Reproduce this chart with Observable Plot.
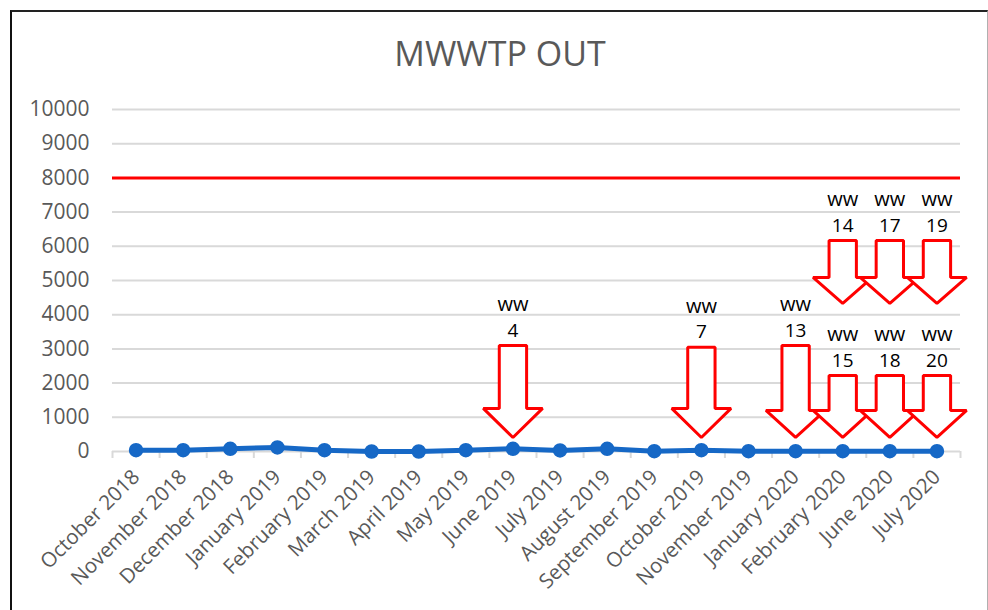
<!DOCTYPE html>
<html>
<head>
<meta charset="utf-8">
<script src="https://cdn.jsdelivr.net/npm/d3@7"></script>
<script src="https://cdn.jsdelivr.net/npm/@observablehq/plot@0.6"></script>
<style>
  html, body { margin: 0; padding: 0; background: #fff; }
  #wrap { position: relative; width: 988px; height: 610px; overflow: hidden; }
  #frame { position: absolute; left: 10px; top: 10px; width: 975px; height: 640px;
           border-left: 2px solid #111; border-top: 2px solid #222; border-right: 1px solid #b0b0b0; }
  #title { position: absolute; left: 0; top: 33px; width: 1000px; text-align: center;
           font-family: "Open Sans", sans-serif; font-size: 34px; color: #595959; line-height: 40px; }
  #chart { position: absolute; left: 0; top: 0; }
</style>
</head>
<body>
<div id="wrap">
  <div id="frame"></div>
  <div id="title">MWWTP OUT</div>
  <div id="chart"></div>
</div>
<script>
// Categories (x axis)
const categories = ["October 2018","November 2018","December 2018","January 2019","February 2019","March 2019","April 2019","May 2019","June 2019","July 2019","August 2019","September 2019","October 2019","November 2019","January 2020","February 2020","June 2020","July 2020"];
// Series values
const values = [40, 40, 80, 120, 40, 0, 0, 40, 80, 30, 80, 10, 40, 10, 10, 10, 10, 10];
// Limit line
const limitValue = [8000];
// Y tick labels
const yTicks = [0,1000,2000,3000,4000,5000,6000,7000,8000,9000,10000];

// Arrow annotations
const arrowCat  = ["June 2019","October 2019","January 2020","February 2020","June 2020","July 2020","February 2020","June 2020","July 2020"];
const arrowNum  = ["4","7","13","15","18","20","14","17","19"];
const arrowTop  = [3100, 3050, 3100, 2220, 2220, 2220, 6170, 6170, 6170];
const arrowNeck = [1260, 1260, 1200, 1200, 1200, 1200, 5090, 5090, 5090];
const arrowTip  = [410, 410, 410, 410, 410, 410, 4330, 4330, 4330];

const series = categories.map((c, i) => ({i, c, v: values[i]}));
const shaftHalf = 0.29, headHalf = 0.63;
const arrows = arrowCat.map((c, k) => ({k, i: categories.indexOf(c), top: arrowTop[k], neck: arrowNeck[k], tip: arrowTip[k], num: arrowNum[k]}));
const arrowPts = arrows.flatMap(a => [
  {k: a.k, x: a.i - shaftHalf, y: a.top},
  {k: a.k, x: a.i + shaftHalf, y: a.top},
  {k: a.k, x: a.i + shaftHalf, y: a.neck},
  {k: a.k, x: a.i + headHalf,  y: a.neck},
  {k: a.k, x: a.i,             y: a.tip},
  {k: a.k, x: a.i - headHalf,  y: a.neck},
  {k: a.k, x: a.i - shaftHalf, y: a.neck}
]);

const idx = d3.range(categories.length);
const bounds = d3.range(categories.length + 1).map(d => d - 0.5);
const grid = "#d9d9d9";
const blue = "#1668c6";

const chart = Plot.plot({
  width: 988,
  height: 610,
  marginLeft: 112,
  marginRight: 28,
  marginTop: 109,
  marginBottom: 159,
  style: {fontFamily: "'Open Sans', sans-serif", background: "transparent", overflow: "visible"},
  x: {type: "linear", domain: [-0.5, categories.length - 0.5], axis: null},
  y: {domain: [0, 10000], axis: null},
  marks: [
    Plot.gridY(yTicks.filter(d => d > 0), {stroke: grid, strokeOpacity: 1, strokeWidth: 2}),
    Plot.ruleY([0], {stroke: grid, strokeWidth: 2}),
    Plot.axisX({ticks: bounds, tickFormat: () => "", tickSize: 7, stroke: grid, strokeWidth: 2, strokeOpacity: 1}),
    Plot.axisX({ticks: idx, tickFormat: i => categories[i], tickSize: 0, tickPadding: 22, tickRotate: -45, fontSize: 20.5, fill: "#595959"}),
    Plot.axisY({ticks: yTicks, tickFormat: d => String(d), tickSize: 0, tickPadding: 23, fontSize: 21, fill: "#595959"}),
    Plot.ruleY(limitValue, {stroke: "#ff0000", strokeWidth: 3}),
    Plot.line(series, {x: "i", y: "v", stroke: blue, strokeWidth: 5}),
    Plot.dot(series, {x: "i", y: "v", r: 6.5, fill: blue, stroke: blue}),
    Plot.line(arrowPts, {x: "x", y: "y", z: "k", curve: "linear-closed", fill: "white", stroke: "#ff0000", strokeWidth: 3, strokeLinejoin: "miter"}),
    Plot.text(arrows, {x: "i", y: "top", text: "num", dy: -15, fontSize: 19, fill: "#000", lineAnchor: "middle"}),
    Plot.text(arrows, {x: "i", y: "top", text: () => "ww", dy: -41, fontSize: 20, fill: "#000", lineAnchor: "middle"})
  ]
});
document.getElementById("chart").appendChild(chart);
</script>
</body>
</html>
